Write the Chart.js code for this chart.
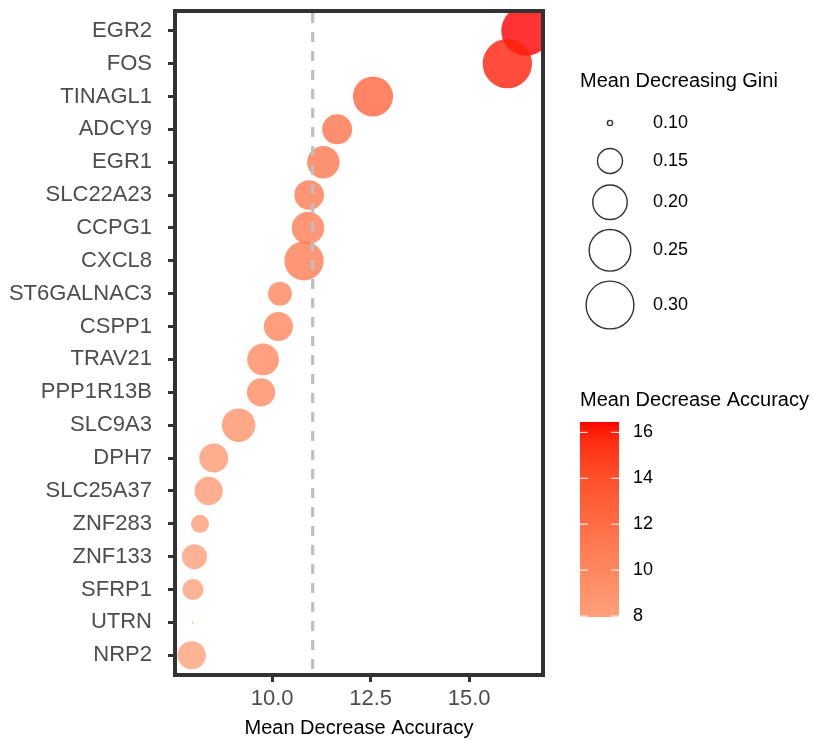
<!DOCTYPE html>
<html>
<head>
<meta charset="utf-8">
<script src="https://cdn.jsdelivr.net/npm/chart.js@4.4.0/dist/chart.umd.min.js"></script>
<style>
  html, body { margin: 0; padding: 0; background: #ffffff; }
  canvas { display: block; }
</style>
</head>
<body>
<canvas id="c" width="813" height="740"></canvas>
<script>
// Random-forest variable importance per gene
const genes = ['EGR2', 'FOS', 'TINAGL1', 'ADCY9', 'EGR1', 'SLC22A23', 'CCPG1', 'CXCL8',
  'ST6GALNAC3', 'CSPP1', 'TRAV21', 'PPP1R13B', 'SLC9A3', 'DPH7', 'SLC25A37', 'ZNF283',
  'ZNF133', 'SFRP1', 'UTRN', 'NRP2'];
const meanDecreaseAccuracy = [16.45, 15.97, 12.56, 11.65, 11.30, 10.94, 10.91, 10.81,
  10.20, 10.16, 9.77, 9.72, 9.15, 8.52, 8.39, 8.17, 8.03, 7.99, 7.98, 7.96];
const meanDecreaseGini = [0.320, 0.314, 0.238, 0.174, 0.188, 0.172, 0.188, 0.232,
  0.145, 0.169, 0.184, 0.165, 0.194, 0.169, 0.165, 0.124, 0.150, 0.134, 0.099, 0.165];
const accuracyCutoff = 11.03;
const xTicks = [10, 12.5, 15];
const giniBreaks = [0.10, 0.15, 0.20, 0.25, 0.30];
const accuracyBreaks = [8, 10, 12, 14, 16];

const FONT = '"Liberation Sans", Arial, Helvetica, sans-serif';
const LOW = '#FFA07A', HIGH = '#FF0000', POINT_ALPHA = 0.8;

// ---- colour ramp interpolated in CIELAB ----
function toLin(c) { c /= 255; return c <= 0.04045 ? c / 12.92 : Math.pow((c + 0.055) / 1.055, 2.4); }
function fromLin(c) {
  const v = c <= 0.0031308 ? 12.92 * c : 1.055 * Math.pow(c, 1 / 2.4) - 0.055;
  return Math.round(Math.min(1, Math.max(0, v)) * 255);
}
function hexToLab(hex) {
  const n = parseInt(hex.slice(1), 16);
  const r = toLin((n >> 16) & 255), g = toLin((n >> 8) & 255), b = toLin(n & 255);
  const X = (0.4124 * r + 0.3576 * g + 0.1805 * b) / 0.95047;
  const Y = (0.2126 * r + 0.7152 * g + 0.0722 * b);
  const Z = (0.0193 * r + 0.1192 * g + 0.9505 * b) / 1.08883;
  const f = t => t > 0.008856 ? Math.cbrt(t) : 7.787 * t + 16 / 116;
  const fx = f(X), fy = f(Y), fz = f(Z);
  return [116 * fy - 16, 500 * (fx - fy), 200 * (fy - fz)];
}
function labToRgb([L, a, b]) {
  const fy = (L + 16) / 116, fx = fy + a / 500, fz = fy - b / 200;
  const fi = t => t * t * t > 0.008856 ? t * t * t : (t - 16 / 116) / 7.787;
  const X = fi(fx) * 0.95047, Y = fi(fy), Z = fi(fz) * 1.08883;
  const r = 3.2406 * X - 1.5372 * Y - 0.4986 * Z;
  const g = -0.9689 * X + 1.8758 * Y + 0.0415 * Z;
  const bb = 0.0557 * X - 0.2040 * Y + 1.0570 * Z;
  return [fromLin(r), fromLin(g), fromLin(bb)];
}
const labLow = hexToLab(LOW), labHigh = hexToLab(HIGH);
const accMin = Math.min(...meanDecreaseAccuracy), accMax = Math.max(...meanDecreaseAccuracy);
function accuracyColor(v, alpha) {
  const t = Math.min(1, Math.max(0, (v - accMin) / (accMax - accMin)));
  const lab = labLow.map((c, k) => c + (labHigh[k] - c) * t);
  const [r, g, b] = labToRgb(lab);
  return `rgba(${r},${g},${b},${alpha})`;
}

// ---- point size: area scaled by Gini ----
const giniMin = Math.min(...meanDecreaseGini), giniMax = Math.max(...meanDecreaseGini);
const R_MIN = 1, R_MAX = 25;
function giniRadius(g) {
  const t = Math.min(1, Math.max(0, (g - giniMin) / (giniMax - giniMin)));
  return R_MIN + (R_MAX - R_MIN) * Math.sqrt(t);
}

// x limits with 5% padding on each side of the data range
const accPad = (accMax - accMin) * 0.05;
const xMin = accMin - accPad, xMax = accMax + accPad;

const cutoffLine = {
  id: 'cutoffLine',
  afterDatasetsDraw(chart) {
    const { ctx, chartArea: a, scales: { x } } = chart;
    const px = x.getPixelForValue(accuracyCutoff);
    ctx.save();
    ctx.strokeStyle = '#BEBEBE';
    ctx.lineWidth = 3.2;
    ctx.setLineDash([10, 9]);
    ctx.lineDashOffset = -2;
    ctx.beginPath();
    ctx.moveTo(px, a.top);
    ctx.lineTo(px, a.bottom);
    ctx.stroke();
    ctx.restore();
  }
};

const panelFrame = {
  id: 'panelFrame',
  afterDatasetsDraw(chart) {
    const { ctx, chartArea: a } = chart;
    ctx.save();
    ctx.strokeStyle = '#333333';
    ctx.lineWidth = 4;
    ctx.strokeRect(a.left, a.top, a.right - a.left, a.bottom - a.top);
    ctx.restore();
  }
};

const legends = {
  id: 'legends',
  afterDraw(chart) {
    const ctx = chart.ctx;
    ctx.save();
    ctx.textAlign = 'left';
    ctx.textBaseline = 'middle';

    // size legend
    ctx.fillStyle = '#000000';
    ctx.font = `20px ${FONT}`;
    ctx.fillText('Mean Decreasing Gini', 580, 81);
    const heights = giniBreaks.map(g => Math.max(2 * giniRadius(g), 28) + 10);
    let cy = 123;
    giniBreaks.forEach((g, i) => {
      if (i > 0) cy += (heights[i - 1] + heights[i]) / 2;
      ctx.beginPath();
      ctx.arc(610, cy, giniRadius(g), 0, Math.PI * 2);
      ctx.strokeStyle = '#333333';
      ctx.lineWidth = 1.4;
      ctx.stroke();
      ctx.fillStyle = '#000000';
      ctx.font = `18px ${FONT}`;
      ctx.fillText(g.toFixed(2), 653, cy);
    });

    // colour bar legend
    ctx.font = `20px ${FONT}`;
    ctx.fillStyle = '#000000';
    ctx.fillText('Mean Decrease Accuracy', 580, 400);
    const bx = 580, bw = 39, yTop = 422, yBot = 617;
    for (let y = yTop; y < yBot; y++) {
      const v = accMax - ((y + 0.5 - yTop) / (yBot - yTop)) * (accMax - accMin);
      ctx.fillStyle = accuracyColor(v, 1);
      ctx.fillRect(bx, y, bw, 1);
    }
    ctx.strokeStyle = '#FFFFFF';
    ctx.lineWidth = 1;
    ctx.font = `18px ${FONT}`;
    accuracyBreaks.forEach(b => {
      const y = yBot - (b - accMin) / (accMax - accMin) * (yBot - yTop);
      ctx.beginPath();
      ctx.moveTo(bx, y); ctx.lineTo(bx + 8, y);
      ctx.moveTo(bx + bw - 8, y); ctx.lineTo(bx + bw, y);
      ctx.stroke();
      ctx.fillStyle = '#000000';
      ctx.fillText(String(b), 633, y);
    });
    ctx.restore();
  }
};

new Chart(document.getElementById('c'), {
  type: 'scatter',
  data: {
    datasets: [{
      data: genes.map((g, i) => ({ x: meanDecreaseAccuracy[i], y: i })),
      backgroundColor: c => accuracyColor(meanDecreaseAccuracy[c.dataIndex], POINT_ALPHA),
      borderWidth: 0,
      pointRadius: c => giniRadius(meanDecreaseGini[c.dataIndex]),
      pointHoverRadius: c => giniRadius(meanDecreaseGini[c.dataIndex]),
      clip: 0
    }]
  },
  options: {
    responsive: false,
    animation: false,
    devicePixelRatio: 1,
    layout: { autoPadding: false, padding: { top: 11, right: 270, bottom: 0, left: 0 } },
    plugins: { legend: { display: false }, tooltip: { enabled: false } },
    scales: {
      x: {
        type: 'linear',
        min: xMin,
        max: xMax,
        afterBuildTicks: s => { s.ticks = xTicks.map(v => ({ value: v })); },
        afterFit: s => { s.height = 65; s.paddingLeft = 0; s.paddingRight = 0; },
        border: { display: false },
        grid: { drawOnChartArea: false, drawTicks: true, tickLength: 7, tickWidth: 3, tickColor: '#333333' },
        ticks: {
          callback: v => Number(v).toFixed(1),
          font: { family: FONT, size: 22 },
          color: '#4D4D4D',
          padding: 4,
          maxRotation: 0
        },
        title: {
          display: true,
          text: 'Mean Decrease Accuracy',
          font: { family: FONT, size: 20 },
          color: '#000000',
          padding: { top: 0, bottom: 0 }
        }
      },
      y: {
        type: 'linear',
        reverse: true,
        min: -0.6,
        max: genes.length - 1 + 0.6,
        afterBuildTicks: s => { s.ticks = genes.map((g, i) => ({ value: i })); },
        afterFit: s => { s.width = 175; s.paddingTop = 0; s.paddingBottom = 0; },
        border: { display: false },
        grid: { drawOnChartArea: false, drawTicks: true, tickLength: 7, tickWidth: 3, tickColor: '#333333' },
        ticks: {
          callback: v => genes[v],
          font: { family: FONT, size: 22 },
          color: '#4D4D4D',
          padding: 16,
          autoSkip: false
        }
      }
    }
  },
  plugins: [cutoffLine, panelFrame, legends]
});
</script>
</body>
</html>
